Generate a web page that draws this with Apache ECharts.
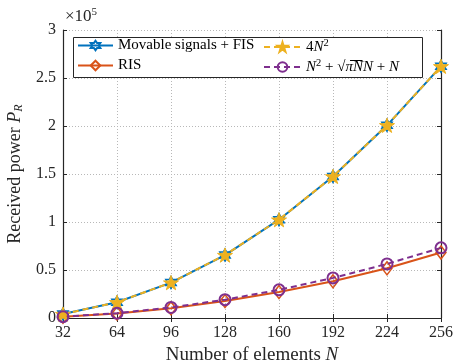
<!DOCTYPE html>
<html><head><meta charset="utf-8">
<script src="https://cdn.jsdelivr.net/npm/echarts@6/dist/echarts.min.js"></script>
<style>html,body{margin:0;padding:0;background:#fff}#c{width:455px;height:362px}</style>
</head><body><div id="c"></div>
<script>
const N = [32, 64, 96, 128, 160, 192, 224, 256];
const movable = [4096, 16384, 36864, 65536, 102400, 147456, 200704, 262144];
const fourN2 = [4096, 16384, 36864, 65536, 102400, 147456, 200704, 262144];
const ris = [1200, 4700, 10100, 17600, 27000, 38200, 51800, 68300];
const bound = [1377, 5068, 10979, 19079, 29347, 41772, 56342, 73052];
const yTicks = ['0', '0.5', '1', '1.5', '2', '2.5', '3'];

const FONT = 'Liberation Serif';
const HEX = 'path://M50 0 L64.43 25 L93.3 25 L78.87 50 L93.3 75 L64.43 75 L50 100 L35.57 75 L6.7 75 L21.13 50 L6.7 25 L35.57 25 Z';
const PENT = 'path://M50 0 L61.23 34.55 L97.55 34.55 L68.17 55.9 L79.39 90.45 L50 69.1 L20.61 90.45 L31.83 55.9 L2.45 34.55 L38.77 34.55 Z';
const C = { blue: '#0072BD', orange: '#D95319', yellow: '#EDB120', purple: '#7E2F8E' };

function pts(vals) { return N.map((n, i) => [n, vals[i]]); }

const chart = echarts.init(document.getElementById('c'), null, { renderer: 'canvas' });
const LF = 15;
const rich = {
  t: { fontFamily: FONT, fontSize: LF, color: '#000', lineHeight: 18 },
  i: { fontFamily: FONT, fontSize: LF, fontStyle: 'italic', color: '#000', lineHeight: 18 },
  s: { fontFamily: FONT, fontSize: 10.5, color: '#000', verticalAlign: 'top', lineHeight: 18, padding: [0, 0, 7, 0] }
};
function legendAt(name, left, top, w) {
  return {
    data: [name], left: left, top: top, itemWidth: w, itemHeight: 12, itemGap: 2,
    padding: 0, textStyle: { fontFamily: FONT, fontSize: LF, color: '#000', rich: rich },
    formatter: function (n) {
      if (n === '4N2') return '{t|4}{i|N}{s|2}';
      if (n === 'bound') return '{i|N}{s|2}{t| + √}{i|π̅N̅}{i|N}{t| + }{i|N}';
      return '{t|' + n + '}';
    },
    selectedMode: false
  };
}
const axisLine = { show: true, lineStyle: { color: '#262626', width: 1.2 } };
const split = { show: true, lineStyle: { color: '#b8b8b8', type: [1, 2], width: 1 } };
const tick = { show: true, inside: true, length: 4, lineStyle: { color: '#262626' } };

chart.setOption({
  animation: false,
  backgroundColor: '#fff',
  grid: { left: 63, right: 14, top: 30, bottom: 44, containLabel: false, outerBoundsMode: 'none' },
  xAxis: [{
    type: 'value', min: 32, max: 256, interval: 32, position: 'bottom',
    axisLine: axisLine, axisTick: tick,
    axisLabel: { fontFamily: FONT, fontSize: 16, color: '#262626', margin: 7 },
    splitLine: split,
    name: '{t|Number of elements }{i|N}', nameLocation: 'middle', nameGap: 23,
    nameTextStyle: { rich: { t: { fontFamily: FONT, fontSize: 19, color: '#262626' }, i: { fontFamily: FONT, fontSize: 19, fontStyle: 'italic', color: '#262626' } } }
  }, {
    type: 'value', min: 32, max: 256, interval: 32, position: 'top',
    axisLine: axisLine, axisTick: tick,
    axisLabel: { show: false }, splitLine: { show: false }
  }],
  yAxis: [{
    type: 'value', min: 0, max: 300000, interval: 50000, position: 'left',
    axisLine: axisLine, axisTick: tick,
    axisLabel: { fontFamily: FONT, fontSize: 16, color: '#262626', margin: 7, formatter: function (v) { return yTicks[Math.round(v / 50000)]; } },
    splitLine: split,
    name: '{t|Received power }{i|P}{sub|R}', nameLocation: 'middle', nameGap: 25, nameRotate: 90,
    nameTextStyle: { rich: {
      t: { fontFamily: FONT, fontSize: 18, color: '#262626' },
      i: { fontFamily: FONT, fontSize: 18, fontStyle: 'italic', color: '#262626' },
      sub: { fontFamily: FONT, fontSize: 12, fontStyle: 'italic', color: '#262626', verticalAlign: 'bottom', padding: [7, 0, 0, 0] } } }
  }, {
    type: 'value', min: 0, max: 300000, interval: 50000, position: 'right',
    axisLine: axisLine, axisTick: tick,
    axisLabel: { show: false }, splitLine: { show: false }
  }],
  legend: [
    legendAt('Movable signals + FIS', 77, 38, 35),
    legendAt('RIS', 77, 58, 35),
    legendAt('4N2', 263, 38, 37),
    legendAt('bound', 263, 58, 37)
  ],
  graphic: [
    { type: 'rect', left: 73, top: 37, shape: { width: 349, height: 40 }, style: { fill: '#fff', stroke: '#262626', lineWidth: 1 }, z: 4 },
    { type: 'text', left: 65, top: 7, style: { rich: { a: { fontFamily: FONT, fontSize: 17, fill: '#262626' }, b: { fontFamily: FONT, fontSize: 11, fill: '#262626', verticalAlign: 'top', padding: [0, 0, 8, 0] } }, text: '{a|×10}{b|5}' } }
  ],
  series: [
    { name: 'Movable signals + FIS', type: 'line', data: pts(movable), symbol: HEX, symbolKeepAspect: true, symbolSize: 12,
      lineStyle: { color: C.blue, width: 2 }, itemStyle: { color: 'rgba(255,255,255,0)', borderColor: C.blue, borderWidth: 1.5 }, z: 2 },
    { name: '4N2', type: 'line', data: pts(fourN2), symbol: PENT, symbolKeepAspect: true, symbolSize: 15,
      lineStyle: { color: C.yellow, width: 2, type: [6, 4] }, itemStyle: { color: C.yellow, borderColor: C.yellow, borderWidth: 1 }, z: 3 },
    { name: 'RIS', type: 'line', data: pts(ris), symbol: 'diamond', symbolSize: [10, 13],
      lineStyle: { color: C.orange, width: 2 }, itemStyle: { color: 'rgba(255,255,255,0)', borderColor: C.orange, borderWidth: 1.5 }, z: 2 },
    { name: 'bound', type: 'line', data: pts(bound), symbol: 'circle', symbolSize: 11,
      lineStyle: { color: C.purple, width: 2, type: [6, 4] }, itemStyle: { color: 'rgba(255,255,255,0)', borderColor: C.purple, borderWidth: 2 }, z: 3 }
  ]
});
</script></body></html>
